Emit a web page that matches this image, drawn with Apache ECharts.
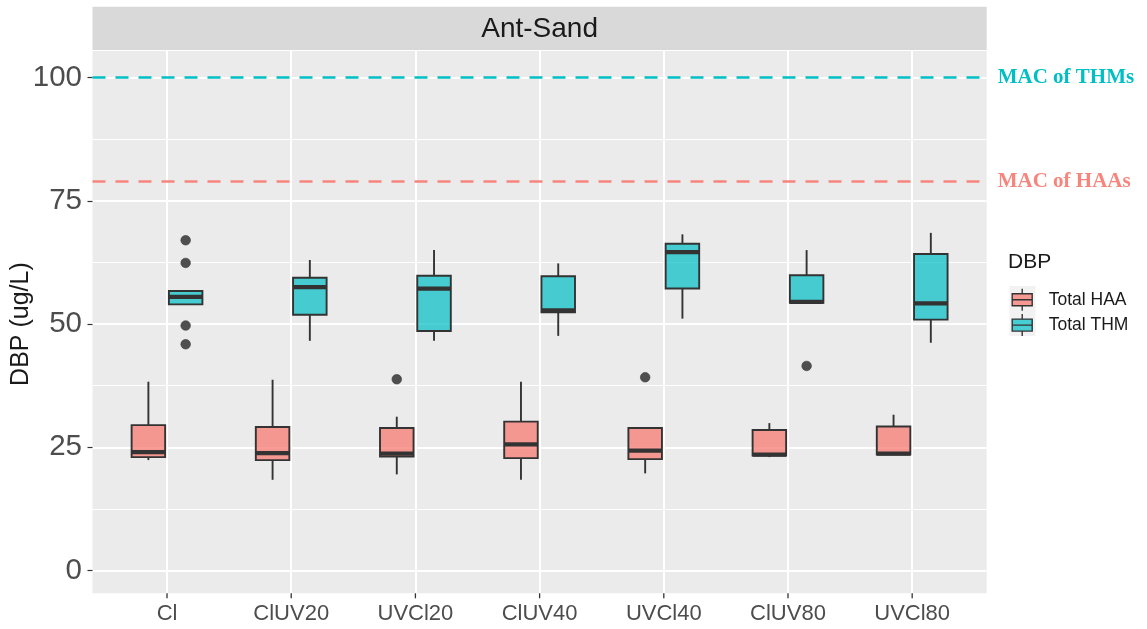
<!DOCTYPE html>
<html>
<head>
<meta charset="utf-8">
<script src="https://cdn.jsdelivr.net/npm/echarts@6/dist/echarts.min.js"></script>
<style>
  html, body { margin: 0; padding: 0; background: #ffffff; }
  #chart { width: 1147px; height: 629px; }
</style>
</head>
<body>
<div id="chart"></div>
<script>
// ---- data ---------------------------------------------------------------
const categories = ['Cl', 'ClUV20', 'UVCl20', 'ClUV40', 'UVCl40', 'ClUV80', 'UVCl80'];
const seriesNames = ['Total HAA', 'Total THM'];

// five-number summaries per treatment: [lower whisker, Q1, median, Q3, upper whisker]
const haaStats = [
  [22.4, 23.0, 24.0, 29.5, 38.3],
  [18.4, 22.4, 23.8, 29.1, 38.7],
  [19.5, 23.1, 23.7, 28.9, 31.2],
  [18.4, 22.8, 25.6, 30.2, 38.3],
  [19.7, 22.6, 24.3, 28.9, 28.9],
  [23.0, 23.3, 23.5, 28.5, 29.9],
  [23.5, 23.5, 23.7, 29.2, 31.6]
];
const thmStats = [
  [54.0, 54.0, 55.5, 56.7, 56.7],
  [46.6, 51.9, 57.5, 59.4, 63.0],
  [46.6, 48.6, 57.2, 59.8, 65.0],
  [47.6, 52.4, 52.8, 59.7, 62.3],
  [51.1, 57.2, 64.6, 66.3, 68.2],
  [54.3, 54.3, 54.5, 59.9, 65.0],
  [46.2, 50.9, 54.2, 64.2, 68.5]
];

// points beyond the whiskers: [treatment, value]
const haaOutliers = [['UVCl20', 38.8], ['UVCl40', 39.2]];
const thmOutliers = [['Cl', 67.0], ['Cl', 62.4], ['Cl', 49.7], ['Cl', 45.9], ['ClUV80', 41.5]];

// maximum allowable concentrations (ug/L)
const macThm = 100;
const macHaa = 79;

const yTickStep = 25;
const yTickRange = [0, 100];

// ---- layout & style -----------------------------------------------------
const FONT = "'Liberation Sans', Arial, Helvetica, sans-serif";
const SERIF = "'Liberation Serif', 'Times New Roman', serif";
const FILLS = ['rgba(248,118,109,0.72)', 'rgba(0,191,196,0.7)'];
const PANEL = { left: 92.5, right: 986.7, top: 51, bottom: 593.3 };
const X_EXPAND = 0.6;            // padding on each side of the discrete axis, in category units
const Y_RANGE = [-4.63, 105.4];  // full panel extent in data units
const DODGE = 0.15;              // box centre offset from category centre, in category units
const BOX_W = 0.27;              // box width, in category units
const LINE = '#333333';
const TICK_LEN = 5;
const LEGEND = { left: 1011.5, top: 288, key: 22, gap: 2, pad: 5 };

const W = 1147, H = 629;
const nCat = categories.length;
const band = (PANEL.right - PANEL.left) / (nCat - 1 + 2 * X_EXPAND);
const ppu = (PANEL.bottom - PANEL.top) / (Y_RANGE[1] - Y_RANGE[0]);
const inner = {
  left: PANEL.left + (X_EXPAND - 0.5) * band,
  right: W - (PANEL.right - (X_EXPAND - 0.5) * band),
  top: PANEL.top + (Y_RANGE[1] - yTickRange[1]) * ppu,
  bottom: H - (PANEL.bottom - (yTickRange[0] - Y_RANGE[0]) * ppu)
};

function boxRenderer(offset) {
  return function (params, api) {
    const i = api.value(0);
    const bw = api.size([1, 0])[0];
    const cx = api.coord([i, 0])[0] + offset * bw;
    const half = BOX_W * bw / 2;
    const y = k => api.coord([i, api.value(k)])[1];
    const lo = y(1), q1 = y(2), med = y(3), q3 = y(4), hi = y(5);
    const fill = api.visual('color');
    return {
      type: 'group',
      children: [
        { type: 'line', shape: { x1: cx, y1: hi, x2: cx, y2: q3 }, style: { stroke: LINE, lineWidth: 1.9 } },
        { type: 'line', shape: { x1: cx, y1: q1, x2: cx, y2: lo }, style: { stroke: LINE, lineWidth: 1.9 } },
        { type: 'rect', shape: { x: cx - half, y: q3, width: 2 * half, height: q1 - q3 },
          style: { fill: fill, stroke: LINE, lineWidth: 1.9 } },
        { type: 'line', shape: { x1: cx - half, y1: med, x2: cx + half, y2: med },
          style: { stroke: LINE, lineWidth: 4.2 } }
      ]
    };
  };
}

function outlierRenderer(offset) {
  return function (params, api) {
    const i = api.value(0);
    const bw = api.size([1, 0])[0];
    const p = api.coord([i, api.value(1)]);
    return {
      type: 'circle',
      shape: { cx: p[0] + offset * bw, cy: p[1], r: 4.8 },
      style: { fill: '#4F4F4F', stroke: '#3A3A3A', lineWidth: 0.6 }
    };
  };
}

// short tick hanging below the panel's lower edge at each category centre
function categoryTick(params, api) {
  const p = api.coord([api.value(0), api.value(1)]);
  return {
    type: 'line',
    shape: { x1: p[0], y1: p[1], x2: p[0], y2: p[1] + TICK_LEN },
    style: { stroke: LINE, lineWidth: 1.3 }
  };
}

const boxData = stats => stats.map((s, i) => [i].concat(s));
const pointData = pts => pts.map(p => [categories.indexOf(p[0]), p[1]]);

// light key backgrounds behind each legend glyph
const keyBackgrounds = seriesNames.map((n, k) => ({
  type: 'rect', z: 0,
  left: LEGEND.left - 2, top: LEGEND.top - 2 + k * (LEGEND.key + LEGEND.gap),
  shape: { width: LEGEND.key + 4, height: LEGEND.key + 4 },
  style: { fill: '#F2F2F2' }
}));

const chart = echarts.init(document.getElementById('chart'), null, { renderer: 'canvas' });

chart.setOption({
  animation: false,
  backgroundColor: '#ffffff',
  textStyle: { fontFamily: FONT },
  graphic: [
    { type: 'rect', left: PANEL.left, top: 6.7, z: 0,
      shape: { width: PANEL.right - PANEL.left, height: 43.3 },
      style: { fill: '#D9D9D9' } },
    { type: 'text', x: (PANEL.left + PANEL.right) / 2, y: 29, z: 1,
      style: { text: 'Ant-Sand', fill: '#1A1A1A', font: '28px ' + FONT,
               textAlign: 'center', textVerticalAlign: 'middle' } },
    { type: 'text', x: 1008, y: 262, z: 1,
      style: { text: 'DBP', fill: '#1A1A1A', font: '21px ' + FONT,
               textAlign: 'left', textVerticalAlign: 'middle' } }
  ].concat(keyBackgrounds),
  legend: {
    data: seriesNames,
    orient: 'vertical',
    left: LEGEND.left - LEGEND.pad,
    top: LEGEND.top - LEGEND.pad,
    padding: LEGEND.pad,
    itemWidth: LEGEND.key,
    itemHeight: LEGEND.key,
    itemGap: LEGEND.gap,
    selectedMode: false,
    z: 5,
    icon: 'path://M11,0V5M1,5H21V17H1ZM1,11H21M11,17V22',
    itemStyle: { borderColor: LINE, borderWidth: 1.4 },
    textStyle: { fontSize: 17.5, color: '#1A1A1A', fontFamily: FONT, padding: [0, 0, 0, 10.5] }
  },
  grid: [
    // panel background and gridlines
    { left: PANEL.left, right: W - PANEL.right, top: PANEL.top, bottom: H - PANEL.bottom,
      show: true, backgroundColor: '#EBEBEB', borderWidth: 0, containLabel: false, outerBoundsMode: 'none' },
    // box plot area: categories across, 0-100 ug/L up
    { left: inner.left, right: inner.right, top: inner.top, bottom: inner.bottom,
      containLabel: false, outerBoundsMode: 'none' },
    // category labels along the bottom edge of the panel
    { left: inner.left, right: inner.right, top: PANEL.top, bottom: H - PANEL.bottom,
      containLabel: false, outerBoundsMode: 'none' }
  ],
  xAxis: [
    { type: 'value', gridIndex: 0, min: -X_EXPAND, max: nCat - 1 + X_EXPAND,
      minInterval: 1, maxInterval: 1,
      axisLabel: { show: false }, axisTick: { show: false }, axisLine: { show: false },
      splitLine: { show: true, showMinLine: false, showMaxLine: false,
                   lineStyle: { color: '#FFFFFF', width: 2 } } },
    { type: 'category', gridIndex: 1, data: categories, boundaryGap: true, show: false },
    { type: 'category', gridIndex: 2, data: categories, boundaryGap: true, position: 'bottom',
      axisLine: { show: false },
      axisTick: { show: false },
      axisLabel: { fontSize: 22, color: '#4D4D4D', margin: 10, fontFamily: FONT },
      splitLine: { show: false } }
  ],
  yAxis: [
    { type: 'value', gridIndex: 0, min: Y_RANGE[0], max: Y_RANGE[1],
      minInterval: yTickStep, maxInterval: yTickStep,
      axisLabel: { show: false }, axisTick: { show: false }, axisLine: { show: false },
      splitLine: { show: true, showMinLine: false, showMaxLine: false,
                   lineStyle: { color: '#FFFFFF', width: 2 } },
      minorTick: { show: false, splitNumber: 2 },
      minorSplitLine: { show: true, lineStyle: { color: '#FFFFFF', width: 1 } } },
    { type: 'value', gridIndex: 1, min: yTickRange[0], max: yTickRange[1], interval: yTickStep,
      offset: inner.left - PANEL.left,
      name: 'DBP (ug/L)', nameLocation: 'middle', nameGap: 59, nameMoveOverlap: false,
      nameTextStyle: { fontSize: 25, color: '#1A1A1A', fontFamily: FONT },
      axisLine: { show: false, onZero: false },
      axisTick: { show: true, length: TICK_LEN, lineStyle: { color: LINE, width: 1.2 } },
      axisLabel: { fontSize: 29.5, color: '#4D4D4D', margin: 10.5, fontFamily: FONT },
      splitLine: { show: false } },
    { type: 'value', gridIndex: 2, min: 0, max: 1, show: false }
  ],
  series: [
    { type: 'line', xAxisIndex: 0, yAxisIndex: 0, data: [], silent: true, name: 'MAC',
      markLine: {
        silent: true, symbol: 'none', animation: false,
        lineStyle: { type: [13, 10], width: 2.6 },
        label: { position: 'end', distance: 11, fontFamily: SERIF, fontWeight: 'bold', fontSize: 21 },
        data: [
          { yAxis: macThm, lineStyle: { color: '#00BFC4' },
            label: { formatter: 'MAC of THMs', color: '#00BFC4' } },
          { yAxis: macHaa, lineStyle: { color: '#F8857D' },
            label: { formatter: 'MAC of HAAs', color: '#F8857D' } }
        ]
      } },
    { type: 'custom', name: 'category ticks', xAxisIndex: 1, yAxisIndex: 1, silent: true,
      clip: false, renderItem: categoryTick, encode: { x: 0, y: 1 },
      data: categories.map((c, i) => [i, Y_RANGE[0]]), z: 2 },
    { type: 'custom', name: seriesNames[0], xAxisIndex: 1, yAxisIndex: 1,
      renderItem: boxRenderer(-DODGE), encode: { x: 0, y: [1, 2, 3, 4, 5] },
      itemStyle: { color: FILLS[0] }, data: boxData(haaStats), z: 3 },
    { type: 'custom', name: seriesNames[1], xAxisIndex: 1, yAxisIndex: 1,
      renderItem: boxRenderer(DODGE), encode: { x: 0, y: [1, 2, 3, 4, 5] },
      itemStyle: { color: FILLS[1] }, data: boxData(thmStats), z: 3 },
    { type: 'custom', name: 'HAA outliers', xAxisIndex: 1, yAxisIndex: 1,
      renderItem: outlierRenderer(-DODGE), encode: { x: 0, y: 1 },
      data: pointData(haaOutliers), z: 4 },
    { type: 'custom', name: 'THM outliers', xAxisIndex: 1, yAxisIndex: 1,
      renderItem: outlierRenderer(DODGE), encode: { x: 0, y: 1 },
      data: pointData(thmOutliers), z: 4 }
  ]
});
</script>
</body>
</html>
